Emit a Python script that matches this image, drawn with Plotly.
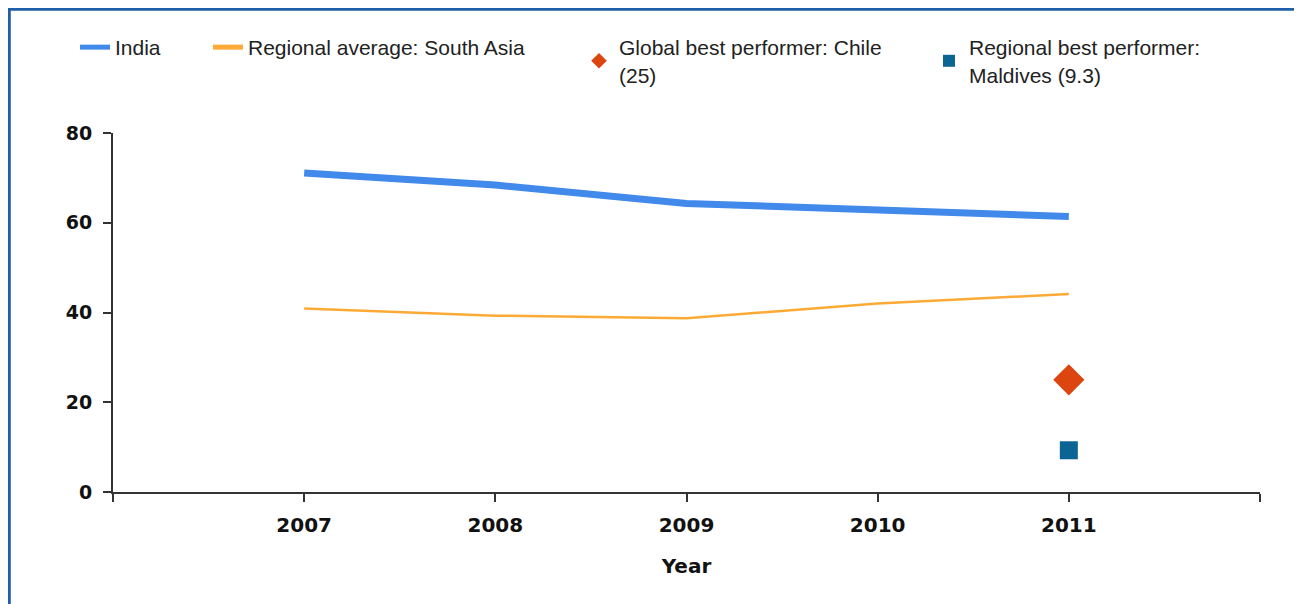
import plotly.graph_objects as go

years = [2007, 2008, 2009, 2010, 2011]
india = [71.1, 68.4, 64.3, 62.8, 61.4]
south_asia = [40.9, 39.3, 38.7, 42.0, 44.1]
chile_year = [2011]
chile_value = [25]
maldives_year = [2011]
maldives_value = [9.3]
x_tick_vals = [2006, 2007, 2008, 2009, 2010, 2011, 2012]
x_tick_text = ["", "2007", "2008", "2009", "2010", "2011", ""]
y_tick_vals = [0, 20, 40, 60, 80]

OFF = 8  # page body margin offset
W, H = 1302 - OFF, 604 - OFF
L, R, T, B = 113 - OFF, 42, 133 - OFF, 112
PW, PH = W - L - R, H - T - B

def px(x):
    return (x - OFF - L) / PW

def py(y):
    return 1 + (T - (y - OFF)) / PH

fig = go.Figure()
fig.add_trace(go.Scatter(x=years, y=india, mode="lines", name="India",
                         line=dict(color="#4189ea", width=7), legend="legend", showlegend=True))
fig.add_trace(go.Scatter(x=years, y=south_asia, mode="lines", name="Regional average: South Asia",
                         line=dict(color="#fcaa35", width=2.5), legend="legend2", showlegend=True))
fig.add_trace(go.Scatter(x=chile_year, y=chile_value, mode="markers",
                         name="Global best performer: Chile<br>(25)",
                         marker=dict(symbol="diamond", size=24, color="#dc4410"), legend="legend3", showlegend=True))
fig.add_trace(go.Scatter(x=maldives_year, y=maldives_value, mode="markers",
                         name="Regional best performer:<br>Maldives (9.3)",
                         marker=dict(symbol="square", size=18, color="#0b6494"), legend="legend4", showlegend=True))

legfont = dict(family="Liberation Sans, Arial, sans-serif", size=21, color="#222")
leg_y = py(27)
common = dict(font=legfont, yanchor="top", xanchor="left", bgcolor="rgba(0,0,0,0)",
              borderwidth=0, itemsizing="constant", visible=True)
fig.update_layout(
    showlegend=True,
    legend=dict(x=px(75), y=leg_y, **common),
    legend2=dict(x=px(208), y=leg_y, **common),
    legend3=dict(x=px(579), y=leg_y, **common),
    legend4=dict(x=px(929), y=leg_y, **common),
)

fam = "DejaVu Sans, Verdana, sans-serif"
fig.update_layout(
    width=W, height=H,
    margin=dict(l=L, r=R, t=T, b=B, autoexpand=False),
    paper_bgcolor="white", plot_bgcolor="white",
    xaxis=dict(range=[2006, 2012], tickvals=x_tick_vals, ticktext=x_tick_text,
               showgrid=False, zeroline=False, showline=True, linecolor="#333", linewidth=2,
               ticks="outside", ticklen=8, tickwidth=2, tickcolor="#333",
               ticklabelstandoff=6,
               tickfont=dict(family=fam, size=20, color="#111", weight="bold"),
               title=dict(text="<b>Year</b>", font=dict(family=fam, size=20, color="#111"), standoff=23)),
    yaxis=dict(range=[0, 80], tickvals=y_tick_vals, showgrid=False, zeroline=False,
               showline=True, linecolor="#333", linewidth=2,
               ticks="outside", ticklen=8, tickwidth=2, tickcolor="#333",
               ticklabelstandoff=7,
               tickfont=dict(family=fam, size=19, color="#111", weight="bold")),
    shapes=[
        dict(type="line", xref="paper", yref="paper", x0=px(8), x1=px(1310), y0=py(9.3), y1=py(9.3),
             line=dict(color="#1f5ea8", width=3)),
        dict(type="line", xref="paper", yref="paper", x0=px(9.3), x1=px(9.3), y0=py(8), y1=py(610),
             line=dict(color="#1f5ea8", width=3)),
    ],
)

fig.write_html("out.html")
